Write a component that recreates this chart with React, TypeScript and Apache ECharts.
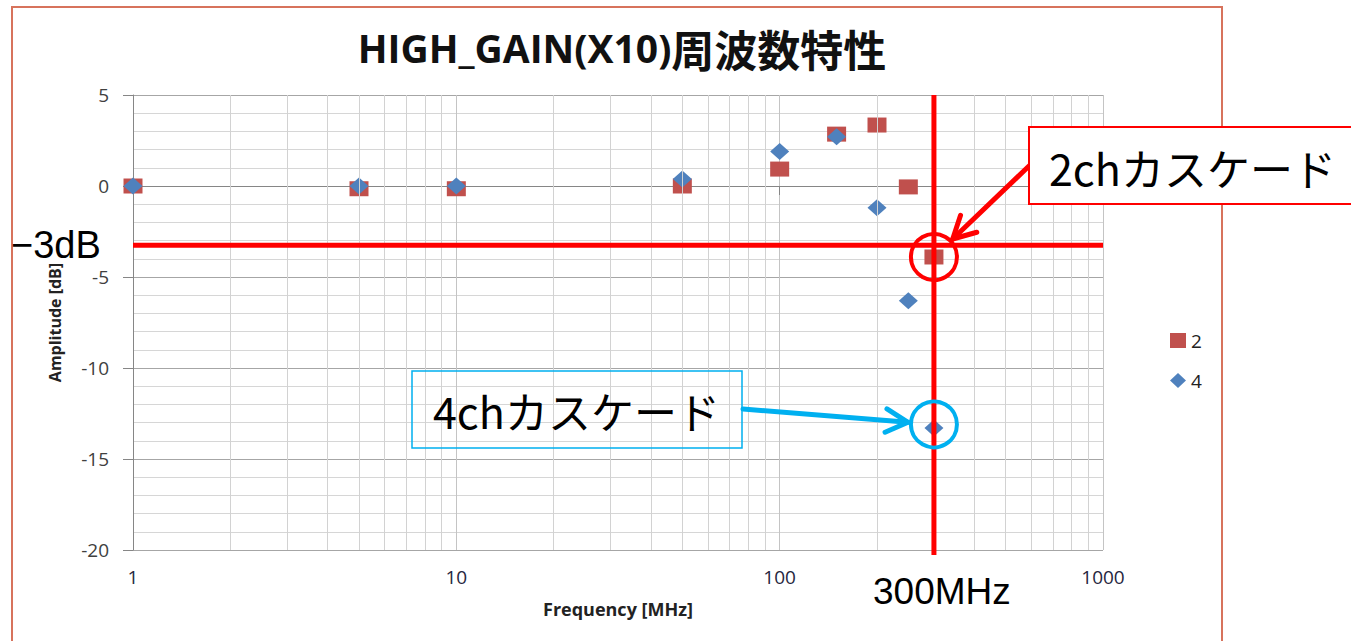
import React, { useEffect, useRef } from "react";
import * as echarts from "echarts";

// ---- data ----
const frequenciesMHz = [1, 5, 10, 50, 100, 150, 200, 250, 300];
const ch2AmplitudeDb = [0, -0.15, -0.15, 0, 0.93, 2.85, 3.35, -0.05, -3.9];
const ch4AmplitudeDb = [0, 0, 0, 0.38, 1.9, 2.7, -1.2, -6.3, -13.3];
const seriesNames = ["2", "4"];
const minorFrequencyLines = [
  2, 3, 4, 5, 6, 7, 8, 9, 20, 30, 40, 50, 60, 70, 80, 90, 200, 300, 400, 500, 600, 700, 800, 900,
];
const yMin = -20;
const yMax = 5;
const yInterval = 5;
const xMin = 1;
const xMax = 1000;

// annotation anchors (data coordinates)
const cutoffFrequency = 300;
const cutoffLevelDb = -3.25;
const ch2CircleDb = -3.9;
const ch4CircleDb = -13.1;

const titleLatin = "HIGH_GAIN(X10)";
const titleCjk = "周波数特性";
const ch2Label = "2chカスケード";
const ch4Label = "4chカスケード";
const minus3dbLabel = "−3dB";
const freqLabel = "300MHz";

const RED = "#ff0000";
const CYAN = "#00b0f0";

export default function App() {
  const ref = useRef<HTMLDivElement>(null);

  useEffect(() => {
    if (!ref.current) return;
    const chart = echarts.init(ref.current, undefined, { renderer: "svg" });

    const option: any = {
      animation: false,
      backgroundColor: "#ffffff",
      title: {
        text: `{a|${titleLatin}}{b|${titleCjk}}`,
        left: 617,
        textAlign: "center",
        top: 21,
        textStyle: {
          rich: {
            a: { fontFamily: "Open Sans", fontWeight: "bold", fontSize: 39, color: "#111" },
            b: { fontFamily: "Noto Sans CJK JP", fontWeight: "bold", fontSize: 43, color: "#111" },
          },
        },
      },
      legend: {
        orient: "vertical",
        left: 1165,
        top: 326,
        itemWidth: 16,
        itemHeight: 15,
        itemGap: 21,
        textStyle: { fontFamily: "Open Sans", fontSize: 19, color: "#222" },
        data: [
          { name: seriesNames[0], icon: "rect" },
          { name: seriesNames[1], icon: "diamond" },
        ],
      },
      grid: { left: 133, right: 248, top: 95, bottom: 91, containLabel: false },
      xAxis: {
        type: "log",
        logBase: 10,
        min: xMin,
        max: xMax,
        name: "Frequency [MHz]",
        nameLocation: "middle",
        nameGap: 50,
        nameTextStyle: { fontFamily: "Open Sans", fontWeight: "bold", fontSize: 18, color: "#222" },
        axisLine: { show: true, lineStyle: { color: "#868686", width: 1 } },
        axisTick: { show: true, length: 9, lineStyle: { color: "#868686" } },
        axisLabel: {
          fontFamily: "Open Sans",
          fontSize: 19,
          color: "#262640",
          margin: 17,
          formatter: (v: number) => String(Math.round(v)),
        },
        splitLine: { show: true, lineStyle: { color: "#c4c4c4", width: 1 } },
      },
      yAxis: {
        type: "value",
        min: yMin,
        max: yMax,
        interval: yInterval,
        name: "Amplitude [dB]",
        nameLocation: "middle",
        nameGap: 70,
        nameRotate: 90,
        nameTextStyle: { fontFamily: "Open Sans", fontWeight: "bold", fontSize: 16, color: "#222" },
        axisLine: { show: true, lineStyle: { color: "#868686", width: 1 } },
        axisTick: { show: true, length: 10, lineStyle: { color: "#868686" } },
        axisLabel: { fontFamily: "Open Sans", fontSize: 19, color: "#404040", margin: 24 },
        splitLine: { show: true, lineStyle: { color: "#a6a6a6", width: 1 } },
        minorTick: { show: false, splitNumber: 5 },
        minorSplitLine: { show: true, lineStyle: { color: "#d6d6d6", width: 1 } },
      },
      series: [
        {
          type: "line",
          data: [],
          silent: true,
          z: 1,
          markLine: {
            silent: true,
            symbol: ["none", "none"],
            label: { show: false },
            lineStyle: { color: "#d2d2d2", width: 1, type: "solid" },
            emphasis: { disabled: true },
            data: minorFrequencyLines.map((v) => ({ xAxis: v })),
          },
        },
        {
          name: seriesNames[0],
          type: "scatter",
          symbol: "rect",
          symbolSize: [19, 15],
          itemStyle: { color: "#c0504d", opacity: 1 },
          z: 3,
          data: frequenciesMHz.map((f, i) => [f, ch2AmplitudeDb[i]]),
        },
        {
          name: seriesNames[1],
          type: "scatter",
          symbol: "diamond",
          symbolSize: [19, 17],
          itemStyle: { color: "#4f81bd", opacity: 1 },
          z: 4,
          data: frequenciesMHz.map((f, i) => [f, ch4AmplitudeDb[i]]),
        },
      ],
    };

    chart.setOption(option);

    const px = (x: number, y: number) =>
      chart.convertToPixel({ gridIndex: 0 }, [x, y]) as number[];

    const [vx, vTop] = px(cutoffFrequency, yMax);
    const [, vBottom] = px(cutoffFrequency, yMin);
    const [hLeft, hy] = px(xMin, cutoffLevelDb);
    const [hRight] = px(xMax, cutoffLevelDb);
    const redC = px(cutoffFrequency, ch2CircleDb);
    const blueC = px(cutoffFrequency, ch4CircleDb);
    const circleR = 23;

    const arrow = (from: number[], center: number[], color: string) => {
      const dx = from[0] - center[0];
      const dy = from[1] - center[1];
      const len = Math.hypot(dx, dy);
      const ux = dx / len;
      const uy = dy / len;
      const tip = [center[0] + ux * (circleR + 3), center[1] + uy * (circleR + 3)];
      const ang = Math.atan2(uy, ux);
      const half = (28 * Math.PI) / 180;
      const L = 25;
      const a1 = [tip[0] + L * Math.cos(ang + half), tip[1] + L * Math.sin(ang + half)];
      const a2 = [tip[0] + L * Math.cos(ang - half), tip[1] + L * Math.sin(ang - half)];
      return [
        {
          type: "line",
          z: 120,
          shape: { x1: from[0], y1: from[1], x2: tip[0], y2: tip[1] },
          style: { stroke: color, lineWidth: 5, lineCap: "round" },
        },
        {
          type: "polyline",
          z: 120,
          shape: { points: [a1, tip, a2] },
          style: { stroke: color, lineWidth: 5, lineCap: "round", lineJoin: "round", fill: "none" },
        },
      ];
    };

    const graphic: any[] = [
      {
        type: "rect",
        z: -10,
        silent: true,
        shape: { x: 12, y: 7, width: 1210, height: 720 },
        style: { fill: "none", stroke: "#d7735c", lineWidth: 2 },
      },
      {
        type: "line",
        z: 110,
        shape: { x1: hLeft, y1: hy, x2: hRight, y2: hy },
        style: { stroke: RED, lineWidth: 5 },
      },
      {
        type: "line",
        z: 110,
        shape: { x1: vx, y1: vTop, x2: vx, y2: vBottom + 5 },
        style: { stroke: RED, lineWidth: 5 },
      },
      {
        type: "circle",
        z: 115,
        shape: { cx: redC[0], cy: redC[1], r: circleR },
        style: { fill: "none", stroke: RED, lineWidth: 4 },
      },
      {
        type: "circle",
        z: 115,
        shape: { cx: blueC[0], cy: blueC[1], r: circleR },
        style: { fill: "none", stroke: CYAN, lineWidth: 4 },
      },
      ...arrow([1029, 166], redC, RED),
      ...arrow([743, 409], blueC, CYAN),
      {
        type: "rect",
        z: 130,
        shape: { x: 1029, y: 127, width: 340, height: 77 },
        style: { fill: "#ffffff", stroke: RED, lineWidth: 2 },
      },
      {
        type: "text",
        z: 131,
        x: 1049,
        y: 167,
        style: {
          text: ch2Label,
          fontFamily: "Noto Sans CJK JP",
          fontSize: 43,
          fill: "#000",
          align: "left",
          verticalAlign: "middle",
        },
      },
      {
        type: "rect",
        z: 130,
        shape: { x: 412, y: 371, width: 330, height: 77 },
        style: { fill: "none", stroke: CYAN, lineWidth: 1.5 },
      },
      {
        type: "text",
        z: 131,
        x: 433,
        y: 410,
        style: {
          text: ch4Label,
          fontFamily: "Noto Sans CJK JP",
          fontSize: 43,
          fill: "#000",
          align: "left",
          verticalAlign: "middle",
        },
      },
      {
        type: "text",
        z: 131,
        x: 11,
        y: 245,
        style: {
          text: minus3dbLabel,
          fontFamily: "Liberation Sans",
          fontSize: 38,
          fill: "#000",
          align: "left",
          verticalAlign: "middle",
        },
      },
      {
        type: "text",
        z: 131,
        x: vx + 8,
        y: 591,
        style: {
          text: freqLabel,
          fontFamily: "Liberation Sans",
          fontSize: 37,
          fill: "#000",
          align: "center",
          verticalAlign: "middle",
        },
      },
    ];

    chart.setOption({ graphic });

    return () => chart.dispose();
  }, []);

  return (
    <div
      ref={ref}
      style={{ position: "fixed", left: 0, top: 0, width: 1351, height: 641 }}
    />
  );
}
